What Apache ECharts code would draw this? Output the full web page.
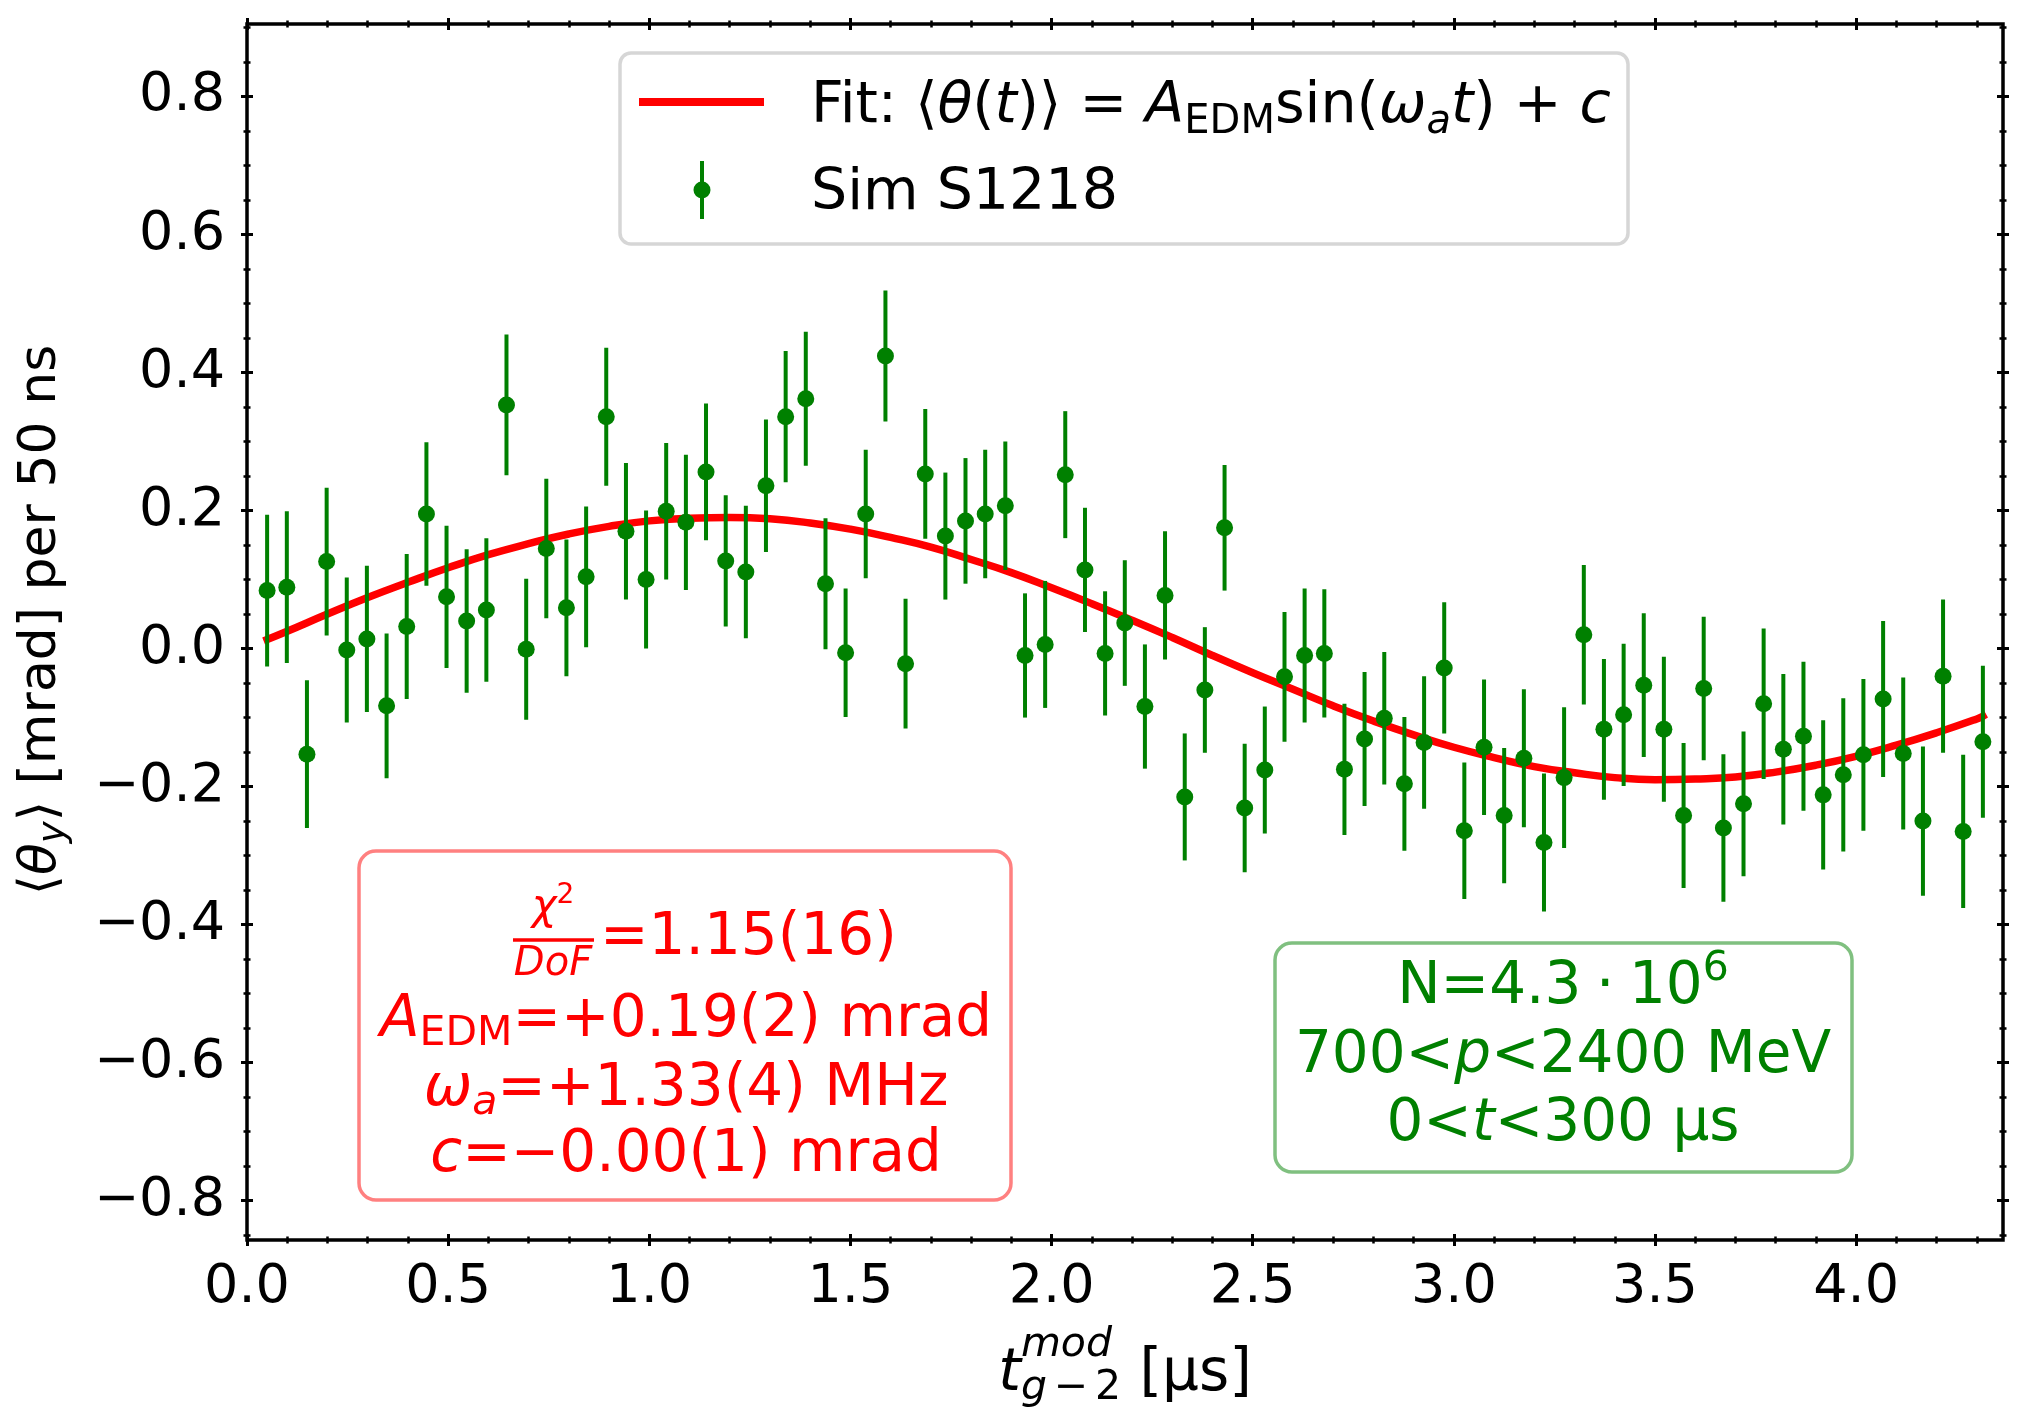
<!DOCTYPE html>
<html>
<head>
<meta charset="utf-8">
<title>EDM fit</title>
<script src="https://cdn.jsdelivr.net/npm/echarts@6/dist/echarts.min.js"></script>
<style>
  html, body { margin: 0; padding: 0; background: #fff; }
  #main { width: 2026px; height: 1417px; }
</style>
</head>
<body>
<div id="main"></div>
<script>
// bin times (us)
const tBins = [0.050, 0.099, 0.149, 0.198, 0.248, 0.298, 0.347, 0.397, 0.446, 0.496,
  0.546, 0.595, 0.645, 0.694, 0.744, 0.794, 0.843, 0.893, 0.942, 0.992,
  1.042, 1.091, 1.141, 1.190, 1.240, 1.290, 1.339, 1.389, 1.438, 1.488,
  1.538, 1.587, 1.637, 1.686, 1.736, 1.786, 1.835, 1.885, 1.934, 1.984,
  2.034, 2.083, 2.133, 2.182, 2.232, 2.282, 2.331, 2.381, 2.430, 2.480,
  2.530, 2.579, 2.629, 2.678, 2.728, 2.778, 2.827, 2.877, 2.926, 2.976,
  3.026, 3.075, 3.125, 3.174, 3.224, 3.274, 3.323, 3.373, 3.422, 3.472,
  3.522, 3.571, 3.621, 3.670, 3.720, 3.770, 3.819, 3.869, 3.918, 3.968,
  4.018, 4.067, 4.117, 4.166, 4.216, 4.266, 4.315];
// <theta_y> (mrad)
const thetaY = [0.084, 0.089, -0.153, 0.126, -0.002, 0.014, -0.083, 0.032, 0.195, 0.075,
  0.040, 0.056, 0.353, -0.001, 0.145, 0.059, 0.104, 0.336, 0.170, 0.100,
  0.199, 0.183, 0.256, 0.127, 0.111, 0.236, 0.336, 0.362, 0.094, -0.006,
  0.195, 0.424, -0.022, 0.253, 0.163, 0.185, 0.195, 0.207, -0.010, 0.006,
  0.252, 0.114, -0.007, 0.037, -0.084, 0.077, -0.215, -0.060, 0.175, -0.231,
  -0.176, -0.041, -0.010, -0.007, -0.175, -0.131, -0.101, -0.196, -0.136, -0.028,
  -0.264, -0.143, -0.242, -0.159, -0.281, -0.187, 0.020, -0.117, -0.096, -0.053,
  -0.117, -0.242, -0.058, -0.260, -0.225, -0.080, -0.146, -0.127, -0.212, -0.183,
  -0.154, -0.073, -0.152, -0.250, -0.040, -0.265, -0.135];
// error on each bin (mrad)
const thetaErr = [0.110, 0.110, 0.107, 0.107, 0.105, 0.106, 0.105, 0.105, 0.104, 0.103,
  0.104, 0.104, 0.102, 0.102, 0.101, 0.099, 0.102, 0.100, 0.099, 0.100,
  0.099, 0.098, 0.099, 0.095, 0.096, 0.096, 0.095, 0.097, 0.095, 0.093,
  0.093, 0.095, 0.094, 0.094, 0.092, 0.091, 0.093, 0.093, 0.090, 0.092,
  0.092, 0.090, 0.090, 0.091, 0.090, 0.093, 0.092, 0.091, 0.091, 0.093,
  0.092, 0.094, 0.097, 0.093, 0.095, 0.097, 0.096, 0.097, 0.096, 0.095,
  0.099, 0.098, 0.098, 0.100, 0.100, 0.102, 0.101, 0.102, 0.103, 0.104,
  0.105, 0.105, 0.104, 0.107, 0.105, 0.109, 0.109, 0.108, 0.108, 0.111,
  0.110, 0.113, 0.110, 0.108, 0.111, 0.111, 0.110];

// fit curve
const fitT = [0.05, 0.1, 0.2, 0.3, 0.4, 0.5, 0.6, 0.7, 0.8, 0.9, 1.0, 1.1, 1.2, 1.3, 1.4,
  1.5, 1.6, 1.7, 1.8, 1.9, 2.0, 2.1, 2.2, 2.3, 2.4, 2.5, 2.6, 2.7, 2.8, 2.9,
  3.0, 3.1, 3.2, 3.3, 3.4, 3.5, 3.6, 3.7, 3.8, 3.9, 4.0, 4.1, 4.2, 4.3, 4.315];
const fitV = [0.013, 0.025, 0.050, 0.074, 0.096, 0.117, 0.136, 0.152, 0.166, 0.177, 0.185, 0.189, 0.190, 0.188, 0.182,
  0.173, 0.161, 0.147, 0.129, 0.110, 0.088, 0.065, 0.041, 0.016, -0.010, -0.035, -0.059, -0.083, -0.105, -0.125,
  -0.143, -0.158, -0.171, -0.180, -0.187, -0.190, -0.189, -0.186, -0.179, -0.169, -0.156, -0.140, -0.122, -0.102, -0.098];

// ticks
const xMajor = [0, 0.5, 1.0, 1.5, 2.0, 2.5, 3.0, 3.5, 4.0];
const xMinor = [0.1, 0.2, 0.3, 0.4, 0.6, 0.7, 0.8, 0.9, 1.1, 1.2, 1.3, 1.4, 1.6, 1.7, 1.8, 1.9,
  2.1, 2.2, 2.3, 2.4, 2.6, 2.7, 2.8, 2.9, 3.1, 3.2, 3.3, 3.4, 3.6, 3.7, 3.8, 3.9, 4.1, 4.2, 4.3];
const yMajor = [-0.8, -0.6, -0.4, -0.2, 0, 0.2, 0.4, 0.6, 0.8];
const yMinor = [-0.85, -0.75, -0.7, -0.65, -0.55, -0.5, -0.45, -0.35, -0.3, -0.25, -0.15, -0.1, -0.05,
  0.05, 0.1, 0.15, 0.25, 0.3, 0.35, 0.45, 0.5, 0.55, 0.65, 0.7, 0.75, 0.85, 0.9];

const X_MIN = 0, X_MAX = 4.365;
const Y_MIN = -0.857, Y_MAX = 0.905;

const FAM = '"DejaVu Sans"';
const RED = '#ff0000', GREEN = '#008000';

// ---- text helpers (mathtext-ish runs) ----
const mctx = document.createElement('canvas').getContext('2d');
function fnt(sz, it) { return (it ? 'italic ' : '') + sz + 'px ' + FAM; }
function textW(s, sz, it) { mctx.font = fnt(sz, it); return mctx.measureText(s).width; }
function midShift(sz) {
  mctx.font = fnt(sz, false);
  mctx.textBaseline = 'middle';
  const d = mctx.measureText('x').actualBoundingBoxDescent;
  mctx.textBaseline = 'alphabetic';
  return d;
}
const S = (t, sz, it, dy) => ({ t, sz, it: !!it, dy: dy || 0 });
const H = (t, sz, it, dy) => ({ t, sz, it: !!it, dy: dy || 0, hold: true });
const SYNC = { sync: true };

function run(segs, x, base, color, align) {
  let cx = 0, holdEnd = 0;
  const items = [];
  segs.forEach(s => {
    if (s.sync) { cx = Math.max(cx, holdEnd); return; }
    const w = textW(s.t, s.sz, s.it);
    items.push({ s, x: cx });
    if (s.hold) holdEnd = cx + w; else cx += w;
  });
  const off = align === 'center' ? -cx / 2 : 0;
  return items.map(it => ({
    type: 'text', z: 100, silent: true,
    x: x + off + it.x,
    y: base + it.s.dy - midShift(it.s.sz),
    style: {
      text: it.s.t, font: fnt(it.s.sz, it.s.it), fill: color,
      align: 'left', verticalAlign: 'middle', textAlign: 'left', textVerticalAlign: 'middle'
    }
  }));
}

function box(x, y, w, h, stroke, r) {
  return { type: 'rect', z: 99, silent: true, shape: { x, y, width: w, height: h, r },
    style: { fill: '#ffffff', stroke, lineWidth: 3.5 } };
}

const graphics = [];
// legend
graphics.push(box(620, 53, 1008, 191, '#d6d6d6', 11));
graphics.push({ type: 'line', z: 100, shape: { x1: 639, y1: 102, x2: 764, y2: 102 },
  style: { stroke: RED, lineWidth: 8 } });
graphics.push({ type: 'line', z: 100, shape: { x1: 702, y1: 161, x2: 702, y2: 219 },
  style: { stroke: GREEN, lineWidth: 4 } });
graphics.push({ type: 'circle', z: 101, shape: { cx: 702, cy: 190, r: 8.5 }, style: { fill: GREEN } });
graphics.push(...run([S('Fit: \u27e8', 57), S('\u03b8', 57, true), S('(', 57), S('t', 57, true),
  S(')\u27e9 = ', 57), S('A', 57, true), S('EDM', 40, false, 10), S('sin(', 57),
  S('\u03c9', 57, true), S('a', 40, true, 10), S('t', 57, true), S(') + ', 57), S('c', 57, true)],
  811, 123, '#000', 'left'));
graphics.push(...run([S('Sim S1218', 57)], 811, 210, '#000', 'left'));

// fit result box
graphics.push(box(359, 851, 652, 349, '#ff8080', 17));
graphics.push(...run([S('\u03c7', 42, true), S('2', 28, false, -16)], 553, 919, RED, 'center'));
graphics.push({ type: 'line', z: 100, shape: { x1: 513, y1: 940, x2: 594, y2: 940 },
  style: { stroke: RED, lineWidth: 3.5 } });
graphics.push(...run([S('DoF', 40, true)], 553, 975, RED, 'center'));
graphics.push(...run([S('=1.15(16)', 58)], 600, 954, RED, 'left'));
graphics.push(...run([S('A', 58, true), S('EDM', 41, false, 9), S('=+0.19(2) mrad', 58)], 686, 1036, RED, 'center'));
graphics.push(...run([S('\u03c9', 58, true), S('a', 41, true, 9), S('=+1.33(4) MHz', 58)], 686, 1105, RED, 'center'));
graphics.push(...run([S('c', 58, true), S('=\u22120.00(1) mrad', 58)], 686, 1171, RED, 'center'));

// sample box
graphics.push(box(1275, 943, 577, 229, '#80c080', 17));
graphics.push(...run([S('N=4.3\u2005\u00b7\u200510', 58), S('6', 41, false, -23)], 1563, 1003, GREEN, 'center'));
graphics.push(...run([S('700<', 58), S('p', 58, true), S('<2400 MeV', 58)], 1563, 1072, GREEN, 'center'));
graphics.push(...run([S('0<', 58), S('t', 58, true), S('<300 \u00b5s', 58)], 1563, 1140, GREEN, 'center'));

// axis titles
graphics.push(...run([S('t', 58, true), H('mod', 41, true, -34), S('g', 41, true, 9),
  S('\u2006\u2212\u20062', 41, false, 9), SYNC, S(' [\u00b5s]', 58)], 1125, 1390, '#000', 'center'));
graphics.push({ type: 'group', x: 55, y: 620, rotation: Math.PI / 2,
  children: run([S('\u27e8', 52), S('\u03b8', 52, true), S('y', 37, true, 9),
    S('\u27e9 [mrad] per 50 ns', 52)], 0, 0, '#000', 'center') });

// ---- axes ----
function tickX(pos, vals, len, w) {
  return { type: 'value', position: pos, min: X_MIN, max: X_MAX, offset: -len / 2,
    axisLine: { show: false, onZero: false }, splitLine: { show: false }, axisLabel: { show: false },
    axisTick: { show: true, inside: false, length: len, customValues: vals, lineStyle: { color: '#000', width: w } } };
}
function tickY(pos, vals, len, w) {
  return { type: 'value', position: pos, min: Y_MIN, max: Y_MAX, offset: -len / 2,
    axisLine: { show: false, onZero: false }, splitLine: { show: false }, axisLabel: { show: false },
    axisTick: { show: true, inside: false, length: len, customValues: vals, lineStyle: { color: '#000', width: w } } };
}
const fmtY = v => (v < -1e-9 ? '\u2212' : '') + Math.abs(v).toFixed(1);

const chart = echarts.init(document.getElementById('main'));
chart.setOption({
  animation: false,
  backgroundColor: '#ffffff',
  textStyle: { fontFamily: FAM },
  grid: { left: 247, right: 23, top: 24, bottom: 177, show: true, borderColor: '#000', borderWidth: 3.5,
    backgroundColor: 'transparent' },
  xAxis: [
    { type: 'value', position: 'bottom', min: X_MIN, max: X_MAX,
      axisLine: { show: false, onZero: false }, axisTick: { show: false }, splitLine: { show: false },
      axisLabel: { customValues: xMajor, formatter: v => v.toFixed(1), fontSize: 54, color: '#000',
        fontFamily: FAM, margin: 21 } },
    tickX('bottom', xMajor, 12, 3), tickX('bottom', xMinor, 7, 2.5),
    tickX('top', xMajor, 12, 3), tickX('top', xMinor, 7, 2.5)
  ],
  yAxis: [
    { type: 'value', position: 'left', min: Y_MIN, max: Y_MAX,
      axisLine: { show: false, onZero: false }, axisTick: { show: false }, splitLine: { show: false },
      axisLabel: { customValues: yMajor, formatter: fmtY, fontSize: 54, color: '#000',
        fontFamily: FAM, margin: 22 } },
    tickY('left', yMajor, 12, 3), tickY('left', yMinor, 7, 2.5),
    tickY('right', yMajor, 12, 3), tickY('right', yMinor, 7, 2.5)
  ],
  series: [
    { name: 'Fit', type: 'line', xAxisIndex: 0, yAxisIndex: 0, z: 2,
      data: fitT.map((t, i) => [t, fitV[i]]), smooth: true, showSymbol: false, silent: true,
      lineStyle: { color: RED, width: 7.5, cap: 'square' } },
    { name: 'Sim S1218 err', type: 'custom', xAxisIndex: 0, yAxisIndex: 0, z: 3, silent: true,
      data: tBins.map((t, i) => [t, thetaY[i], thetaErr[i]]),
      encode: { x: 0, y: 1 },
      renderItem: (params, api) => {
        const x = api.value(0), y = api.value(1), e = api.value(2);
        const a = api.coord([x, y - e]), b = api.coord([x, y + e]);
        return { type: 'line', shape: { x1: a[0], y1: a[1], x2: b[0], y2: b[1] },
          style: { stroke: GREEN, lineWidth: 4 } };
      } },
    { name: 'Sim S1218', type: 'scatter', xAxisIndex: 0, yAxisIndex: 0, z: 4, silent: true,
      data: tBins.map((t, i) => [t, thetaY[i]]), symbolSize: 17,
      itemStyle: { color: GREEN, opacity: 1 } }
  ],
  graphic: graphics
});
</script>
</body>
</html>
